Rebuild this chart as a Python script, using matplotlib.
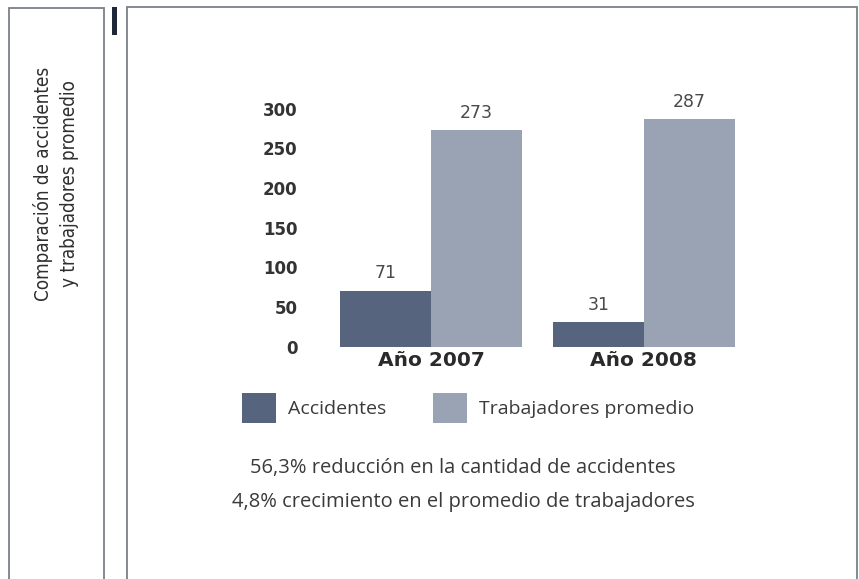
import matplotlib
matplotlib.use('Agg')
import matplotlib.pyplot as plt
from matplotlib.patches import Rectangle
import numpy as np

years = ['Año 2007', 'Año 2008']
accidentes = [71, 31]
trabajadores = [273, 287]
yticks = [0, 50, 100, 150, 200, 250, 300]
series_names = ['Accidentes', 'Trabajadores promedio']
side_title = 'Comparación de accidentes\ny trabajadores promedio'
notes = ['56,3% reducción en la cantidad de accidentes',
         '4,8% crecimiento en el promedio de trabajadores']

dark = '#56647d'
light = '#99a3b3'
frame = '#7b8089'
txt = '#3a3a3a'

W, H = 859, 579
fig = plt.figure(figsize=(W / 100, H / 100), dpi=100)
fig.patch.set_facecolor('white')


def fx(px):
    return px / W


def fy(py):
    return 1 - py / H


# frames
fig.add_artist(Rectangle((fx(9), fy(600)), fx(104) - fx(9), fy(8) - fy(600),
                         fill=False, edgecolor=frame, lw=1.3, transform=fig.transFigure))
fig.add_artist(Rectangle((fx(127), fy(600)), fx(857) - fx(127), fy(7) - fy(600),
                         fill=False, edgecolor=frame, lw=1.3, transform=fig.transFigure))
fig.add_artist(Rectangle((fx(112), fy(35)), fx(117) - fx(112), fy(7) - fy(35),
                         facecolor='#1e2838', edgecolor='none', transform=fig.transFigure))

fig.text(fx(56), fy(184), side_title, rotation=90, ha='center', va='center',
         fontsize=13.5, color='#2e2e2e', linespacing=1.45, fontstretch='condensed',
         family='DejaVu Sans')

# bar chart
ax = fig.add_axes([fx(314), fy(347), fx(761) - fx(314), fy(108.5) - fy(347)])
x = np.arange(len(years))
w = 0.427
b1 = ax.bar(x - w / 2, accidentes, w, color=dark, label=series_names[0])
b2 = ax.bar(x + w / 2, trabajadores, w, color=light, label=series_names[1])
for bars in (b1, b2):
    for r in bars:
        ax.annotate(str(int(r.get_height())), (r.get_x() + r.get_width() / 2, r.get_height()),
                    xytext=(0, 6), textcoords='offset points', ha='center', va='bottom',
                    fontsize=12.5, color='#4a4a4a', family='DejaVu Sans')

ax.set_xlim(-0.55, 1.55)
ax.set_ylim(0, 300)
ax.set_yticks(yticks)
ax.set_yticklabels([str(t) for t in yticks], fontsize=12, color='#333333',
                   fontweight='bold', family='DejaVu Sans')
ax.set_xticks(x)
ax.set_xticklabels(years, fontsize=14.5, color='#2a2a2a', fontweight='bold', family='DejaVu Sans')
ax.tick_params(axis='y', length=0, pad=12)
ax.tick_params(axis='x', length=0, pad=3)
for s in ax.spines.values():
    s.set_visible(False)
ax.patch.set_alpha(0)

# legend
leg = fig.legend(handles=[b1, b2], labels=series_names, loc='center',
                 bbox_to_anchor=(fx(468), fy(408)), ncol=2, frameon=False,
                 handlelength=1.75, handleheight=2.0, columnspacing=2.4,
                 handletextpad=0.6, prop={'family': 'Open Sans', 'size': 14})
for t in leg.get_texts():
    t.set_color(txt)

fig.text(fx(463), fy(468), notes[0], ha='center', va='center', fontsize=14.5,
         color=txt, family='Open Sans')
fig.text(fx(463), fy(502), notes[1], ha='center', va='center', fontsize=14.5,
         color=txt, family='Open Sans')

fig.savefig('out.png', dpi=100)
